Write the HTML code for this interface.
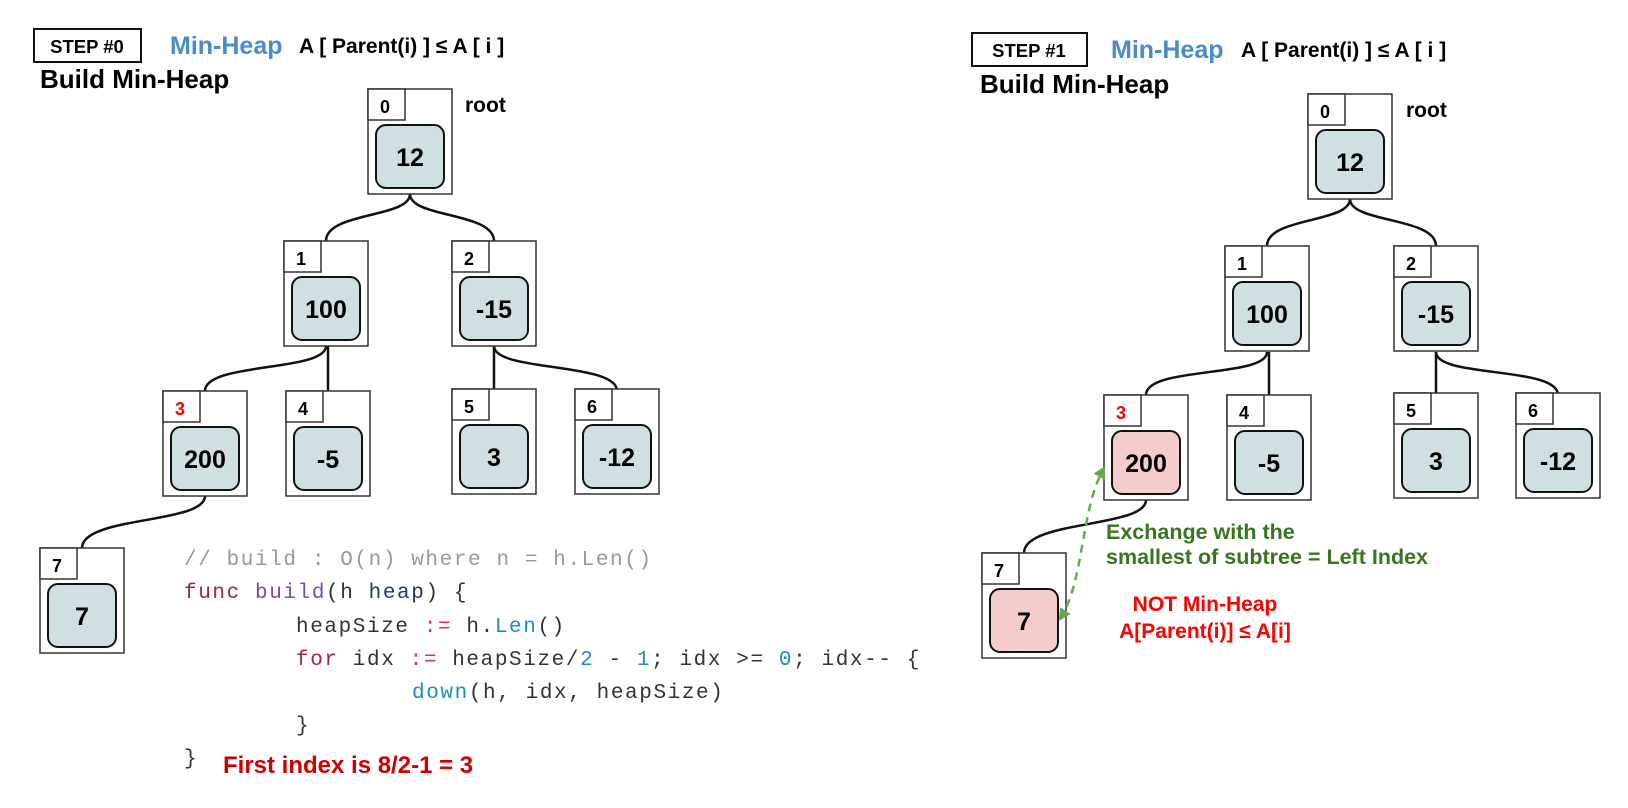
<!DOCTYPE html>
<html><head><meta charset="utf-8"><style>
html,body{margin:0;padding:0;background:#fff;width:1628px;height:808px;overflow:hidden}
svg text{font-family:"Liberation Sans",sans-serif;font-weight:bold}
.code{font-family:"Liberation Mono",monospace;font-weight:normal;font-size:21px;letter-spacing:1.6px}
</style></head><body>
<svg width="1628" height="808" viewBox="0 0 1628 808" xmlns="http://www.w3.org/2000/svg">
<defs>
<g id="nb"><rect x="0" y="0" width="84" height="105" fill="#fff" stroke="#333" stroke-width="1.5"/><rect x="0" y="0" width="37" height="31" fill="#fff" stroke="#333" stroke-width="1.5"/></g>
<marker id="ah" viewBox="0 0 10 10" refX="8" refY="5" markerWidth="5" markerHeight="5" orient="auto-start-reverse"><path d="M0,0 L10,5 L0,10 z" fill="#6aa84f"/></marker>
</defs>

<rect x="34" y="29" width="107" height="33" fill="#fff" stroke="#111" stroke-width="2"/>
<text x="87" y="53" font-size="18.5" text-anchor="middle">STEP #0</text>
<text x="170" y="54" font-size="25" fill="#4a8cc9">Min-Heap</text>
<text x="299" y="53" font-size="21">A [ Parent(i) ] ≤ A [ i ]</text>
<text x="40" y="88" font-size="26">Build Min-Heap</text>
<text x="465" y="112" font-size="21">root</text>

<g fill="none" stroke="#111" stroke-width="2.5">
<path d="M410,194 C410,218 326,212 326,241"/>
<path d="M410,194 C410,218 494,212 494,241"/>
<path d="M326,346 C326,372 205,362 205,391"/>
<path d="M328,346 L328,391"/>
<path d="M494,346 L494,391"/>
<path d="M494,346 C494,372 617,362 617,391"/>
<path d="M205,496 C205,524 82,516 82,548"/>
</g>

<g transform="translate(368,89)"><use href="#nb"/><text x="12" y="24" font-size="18">0</text><rect x="8" y="36" width="68" height="63" rx="10" fill="#d0dfe2" stroke="#111" stroke-width="2"/><text x="42" y="77" font-size="25" text-anchor="middle">12</text></g>
<g transform="translate(284,241)"><use href="#nb"/><text x="12" y="24" font-size="18">1</text><rect x="8" y="36" width="68" height="63" rx="10" fill="#d0dfe2" stroke="#111" stroke-width="2"/><text x="42" y="77" font-size="25" text-anchor="middle">100</text></g>
<g transform="translate(452,241)"><use href="#nb"/><text x="12" y="24" font-size="18">2</text><rect x="8" y="36" width="68" height="63" rx="10" fill="#d0dfe2" stroke="#111" stroke-width="2"/><text x="42" y="77" font-size="25" text-anchor="middle">-15</text></g>
<g transform="translate(163,391)"><use href="#nb"/><text x="12" y="24" font-size="18" fill="#ff0000">3</text><rect x="8" y="36" width="68" height="63" rx="10" fill="#d0dfe2" stroke="#111" stroke-width="2"/><text x="42" y="77" font-size="25" text-anchor="middle">200</text></g>
<g transform="translate(286,391)"><use href="#nb"/><text x="12" y="24" font-size="18">4</text><rect x="8" y="36" width="68" height="63" rx="10" fill="#d0dfe2" stroke="#111" stroke-width="2"/><text x="42" y="77" font-size="25" text-anchor="middle">-5</text></g>
<g transform="translate(452,389)"><use href="#nb"/><text x="12" y="24" font-size="18">5</text><rect x="8" y="36" width="68" height="63" rx="10" fill="#d0dfe2" stroke="#111" stroke-width="2"/><text x="42" y="77" font-size="25" text-anchor="middle">3</text></g>
<g transform="translate(575,389)"><use href="#nb"/><text x="12" y="24" font-size="18">6</text><rect x="8" y="36" width="68" height="63" rx="10" fill="#d0dfe2" stroke="#111" stroke-width="2"/><text x="42" y="77" font-size="25" text-anchor="middle">-12</text></g>
<g transform="translate(40,548)"><use href="#nb"/><text x="12" y="24" font-size="18">7</text><rect x="8" y="36" width="68" height="63" rx="10" fill="#d0dfe2" stroke="#111" stroke-width="2"/><text x="42" y="77" font-size="25" text-anchor="middle">7</text></g>

<text class="code" x="184" y="565" fill="#999">// build : O(n) where n = h.Len()</text>
<text class="code" x="184" y="598"><tspan fill="#a1245e">func</tspan> <tspan fill="#7b4ea0">build</tspan><tspan fill="#333">(h </tspan><tspan fill="#1f3a6e">heap</tspan><tspan fill="#333">) {</tspan></text>
<text class="code" x="296" y="632" fill="#333">heapSize <tspan fill="#d0307a">:=</tspan> h.<tspan fill="#1b8fbf">Len</tspan>()</text>
<text class="code" x="296" y="665" fill="#333"><tspan fill="#a1245e">for</tspan> idx <tspan fill="#d0307a">:=</tspan> heapSize/<tspan fill="#1b8fbf">2</tspan> - <tspan fill="#1b8fbf">1</tspan>; idx &gt;= <tspan fill="#1b8fbf">0</tspan>; idx-- {</text>
<text class="code" x="412" y="698" fill="#333"><tspan fill="#1b8fbf">down</tspan>(h, idx, heapSize)</text>
<text class="code" x="296" y="731" fill="#333">}</text>
<text class="code" x="184" y="764" fill="#333">}</text>
<text x="223" y="773" font-size="24" fill="#cc0000">First index is 8/2-1 = 3</text>

<rect x="972" y="33" width="115" height="33" fill="#fff" stroke="#111" stroke-width="2"/>
<text x="1029" y="57" font-size="18.5" text-anchor="middle">STEP #1</text>
<text x="1111" y="58" font-size="25" fill="#4a8cc9">Min-Heap</text>
<text x="1241" y="57" font-size="21">A [ Parent(i) ] ≤ A [ i ]</text>
<text x="980" y="93" font-size="26">Build Min-Heap</text>
<text x="1406" y="117" font-size="21">root</text>

<g fill="none" stroke="#111" stroke-width="2.5">
<path d="M1350,199 C1350,223 1267,217 1267,246"/>
<path d="M1350,199 C1350,223 1436,217 1436,246"/>
<path d="M1267,352 C1267,378 1146,366 1146,395"/>
<path d="M1269,352 L1269,395"/>
<path d="M1436,352 L1436,395"/>
<path d="M1436,352 C1436,378 1558,366 1558,395"/>
<path d="M1146,500 C1146,528 1024,520 1024,553"/>
</g>

<g transform="translate(1308,94)"><use href="#nb"/><text x="12" y="24" font-size="18">0</text><rect x="8" y="36" width="68" height="63" rx="10" fill="#d0dfe2" stroke="#111" stroke-width="2"/><text x="42" y="77" font-size="25" text-anchor="middle">12</text></g>
<g transform="translate(1225,246)"><use href="#nb"/><text x="12" y="24" font-size="18">1</text><rect x="8" y="36" width="68" height="63" rx="10" fill="#d0dfe2" stroke="#111" stroke-width="2"/><text x="42" y="77" font-size="25" text-anchor="middle">100</text></g>
<g transform="translate(1394,246)"><use href="#nb"/><text x="12" y="24" font-size="18">2</text><rect x="8" y="36" width="68" height="63" rx="10" fill="#d0dfe2" stroke="#111" stroke-width="2"/><text x="42" y="77" font-size="25" text-anchor="middle">-15</text></g>
<g transform="translate(1104,395)"><use href="#nb"/><text x="12" y="24" font-size="18" fill="#ff0000">3</text><rect x="8" y="36" width="68" height="63" rx="10" fill="#f4cccc" stroke="#111" stroke-width="2"/><text x="42" y="77" font-size="25" text-anchor="middle">200</text></g>
<g transform="translate(1227,395)"><use href="#nb"/><text x="12" y="24" font-size="18">4</text><rect x="8" y="36" width="68" height="63" rx="10" fill="#d0dfe2" stroke="#111" stroke-width="2"/><text x="42" y="77" font-size="25" text-anchor="middle">-5</text></g>
<g transform="translate(1394,393)"><use href="#nb"/><text x="12" y="24" font-size="18">5</text><rect x="8" y="36" width="68" height="63" rx="10" fill="#d0dfe2" stroke="#111" stroke-width="2"/><text x="42" y="77" font-size="25" text-anchor="middle">3</text></g>
<g transform="translate(1516,393)"><use href="#nb"/><text x="12" y="24" font-size="18">6</text><rect x="8" y="36" width="68" height="63" rx="10" fill="#d0dfe2" stroke="#111" stroke-width="2"/><text x="42" y="77" font-size="25" text-anchor="middle">-12</text></g>
<g transform="translate(982,553)"><use href="#nb"/><text x="12" y="24" font-size="18">7</text><rect x="8" y="36" width="68" height="63" rx="10" fill="#f4cccc" stroke="#111" stroke-width="2"/><text x="42" y="77" font-size="25" text-anchor="middle">7</text></g>

<path d="M1060,619 C1085,580 1080,510 1104,468" fill="none" stroke="#6aa84f" stroke-width="2.5" stroke-dasharray="8,6" marker-start="url(#ah)" marker-end="url(#ah)"/>

<text x="1106" y="539" font-size="21.5" fill="#38761d">Exchange with the</text>
<text x="1106" y="564" font-size="21.5" fill="#38761d">smallest of subtree = Left Index</text>
<text x="1205" y="611" font-size="21" fill="#ff0000" text-anchor="middle">NOT Min-Heap</text>
<text x="1205" y="638" font-size="21" fill="#ff0000" text-anchor="middle">A[Parent(i)] ≤ A[i]</text>
</svg>
</body></html>
